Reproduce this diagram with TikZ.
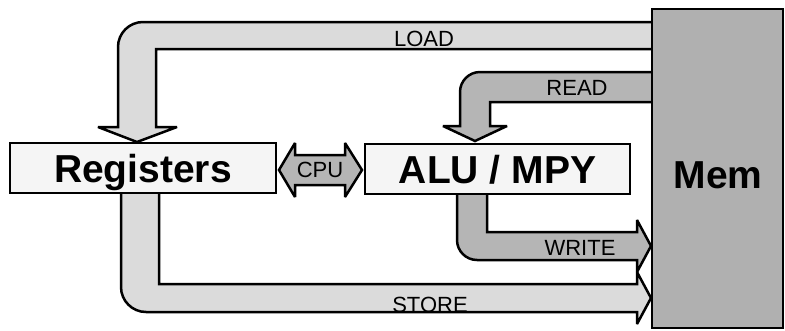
\documentclass[tikz,border=0pt]{standalone}
\usepackage{fontspec}
\setmainfont{Liberation Sans}
\definecolor{bandlight}{gray}{0.86}
\definecolor{banddark}{gray}{0.71}
\definecolor{memgray}{gray}{0.69}
\definecolor{boxfill}{gray}{0.96}
\begin{document}
\begin{tikzpicture}[x=1pt,y=-1pt,
  lightband/.style={draw=black,line width=2.5pt,fill=bandlight,line join=miter,miter limit=3},
  darkband/.style={draw=black,line width=2.5pt,fill=banddark,line join=miter,miter limit=3},
  unitbox/.style={draw=black,line width=2.6pt,fill=boxfill,inner sep=0pt,
    font=\bfseries\fontsize{39}{39}\selectfont,text depth=0pt},
  membox/.style={draw=black,line width=2.6pt,fill=memgray,inner sep=0pt},
  buslabel/.style={font=\fontsize{22}{22}\selectfont,inner sep=0pt,anchor=base}]
\useasboundingbox (0,0) rectangle (785,330);
% LOAD
\draw[lightband] (660,22) -- (143,22) .. controls (129.2,22) and (118,33.2) .. (118,47)
  -- (118,127) -- (98,127) -- (137,142) -- (177,127) -- (156,127) -- (156,49) -- (660,49) -- cycle;
% READ
\draw[darkband] (660,72) -- (480,72) .. controls (469,72) and (460,81) .. (460,92)
  -- (460,126) -- (443,126) -- (475,141) -- (507,126) -- (490,126) -- (490,102) -- (660,102) -- cycle;
% STORE
\draw[lightband] (121,190) -- (121,287) .. controls (121,300.8) and (132.2,312) .. (146,312)
  -- (637,312) -- (637,324) -- (651,298) -- (637,272) -- (637,284) -- (159,284) -- (159,190) -- cycle;
% WRITE
\draw[darkband] (457,190) -- (457,240) .. controls (457,251) and (466,260) .. (477,260)
  -- (637,260) -- (637,272) -- (651,246) -- (637,220) -- (637,232) -- (487,232) -- (487,190) -- cycle;
% CPU
\draw[darkband] (279,170) -- (295,143) -- (295,155) -- (345,155) -- (345,143) -- (362,170)
  -- (345,197) -- (345,185) -- (295,185) -- (295,197) -- cycle;
% boxes
\node[unitbox,minimum width=266pt,minimum height=50pt] (reg) at (143,168) {Registers};
\node[unitbox,minimum width=265pt,minimum height=50pt] (alu) at (497.5,169) {ALU / MPY};
\node[membox,minimum width=131pt,minimum height=319pt] (mem) at (717.5,168.5) {};
\node[font=\bfseries\fontsize{39}{39}\selectfont,inner sep=0pt,anchor=base] (memtext) at (718,188) {Mem};
% labels
\node[buslabel] (loadlbl) at (424,46) {LOAD};
\node[buslabel] (readlbl) at (577,95) {READ};
\node[buslabel] (cpulbl) at (320,177) {CPU};
\node[buslabel] (writelbl) at (580,255) {WRITE};
\node[buslabel] (storelbl) at (430,312) {STORE};
\end{tikzpicture}
\end{document}
